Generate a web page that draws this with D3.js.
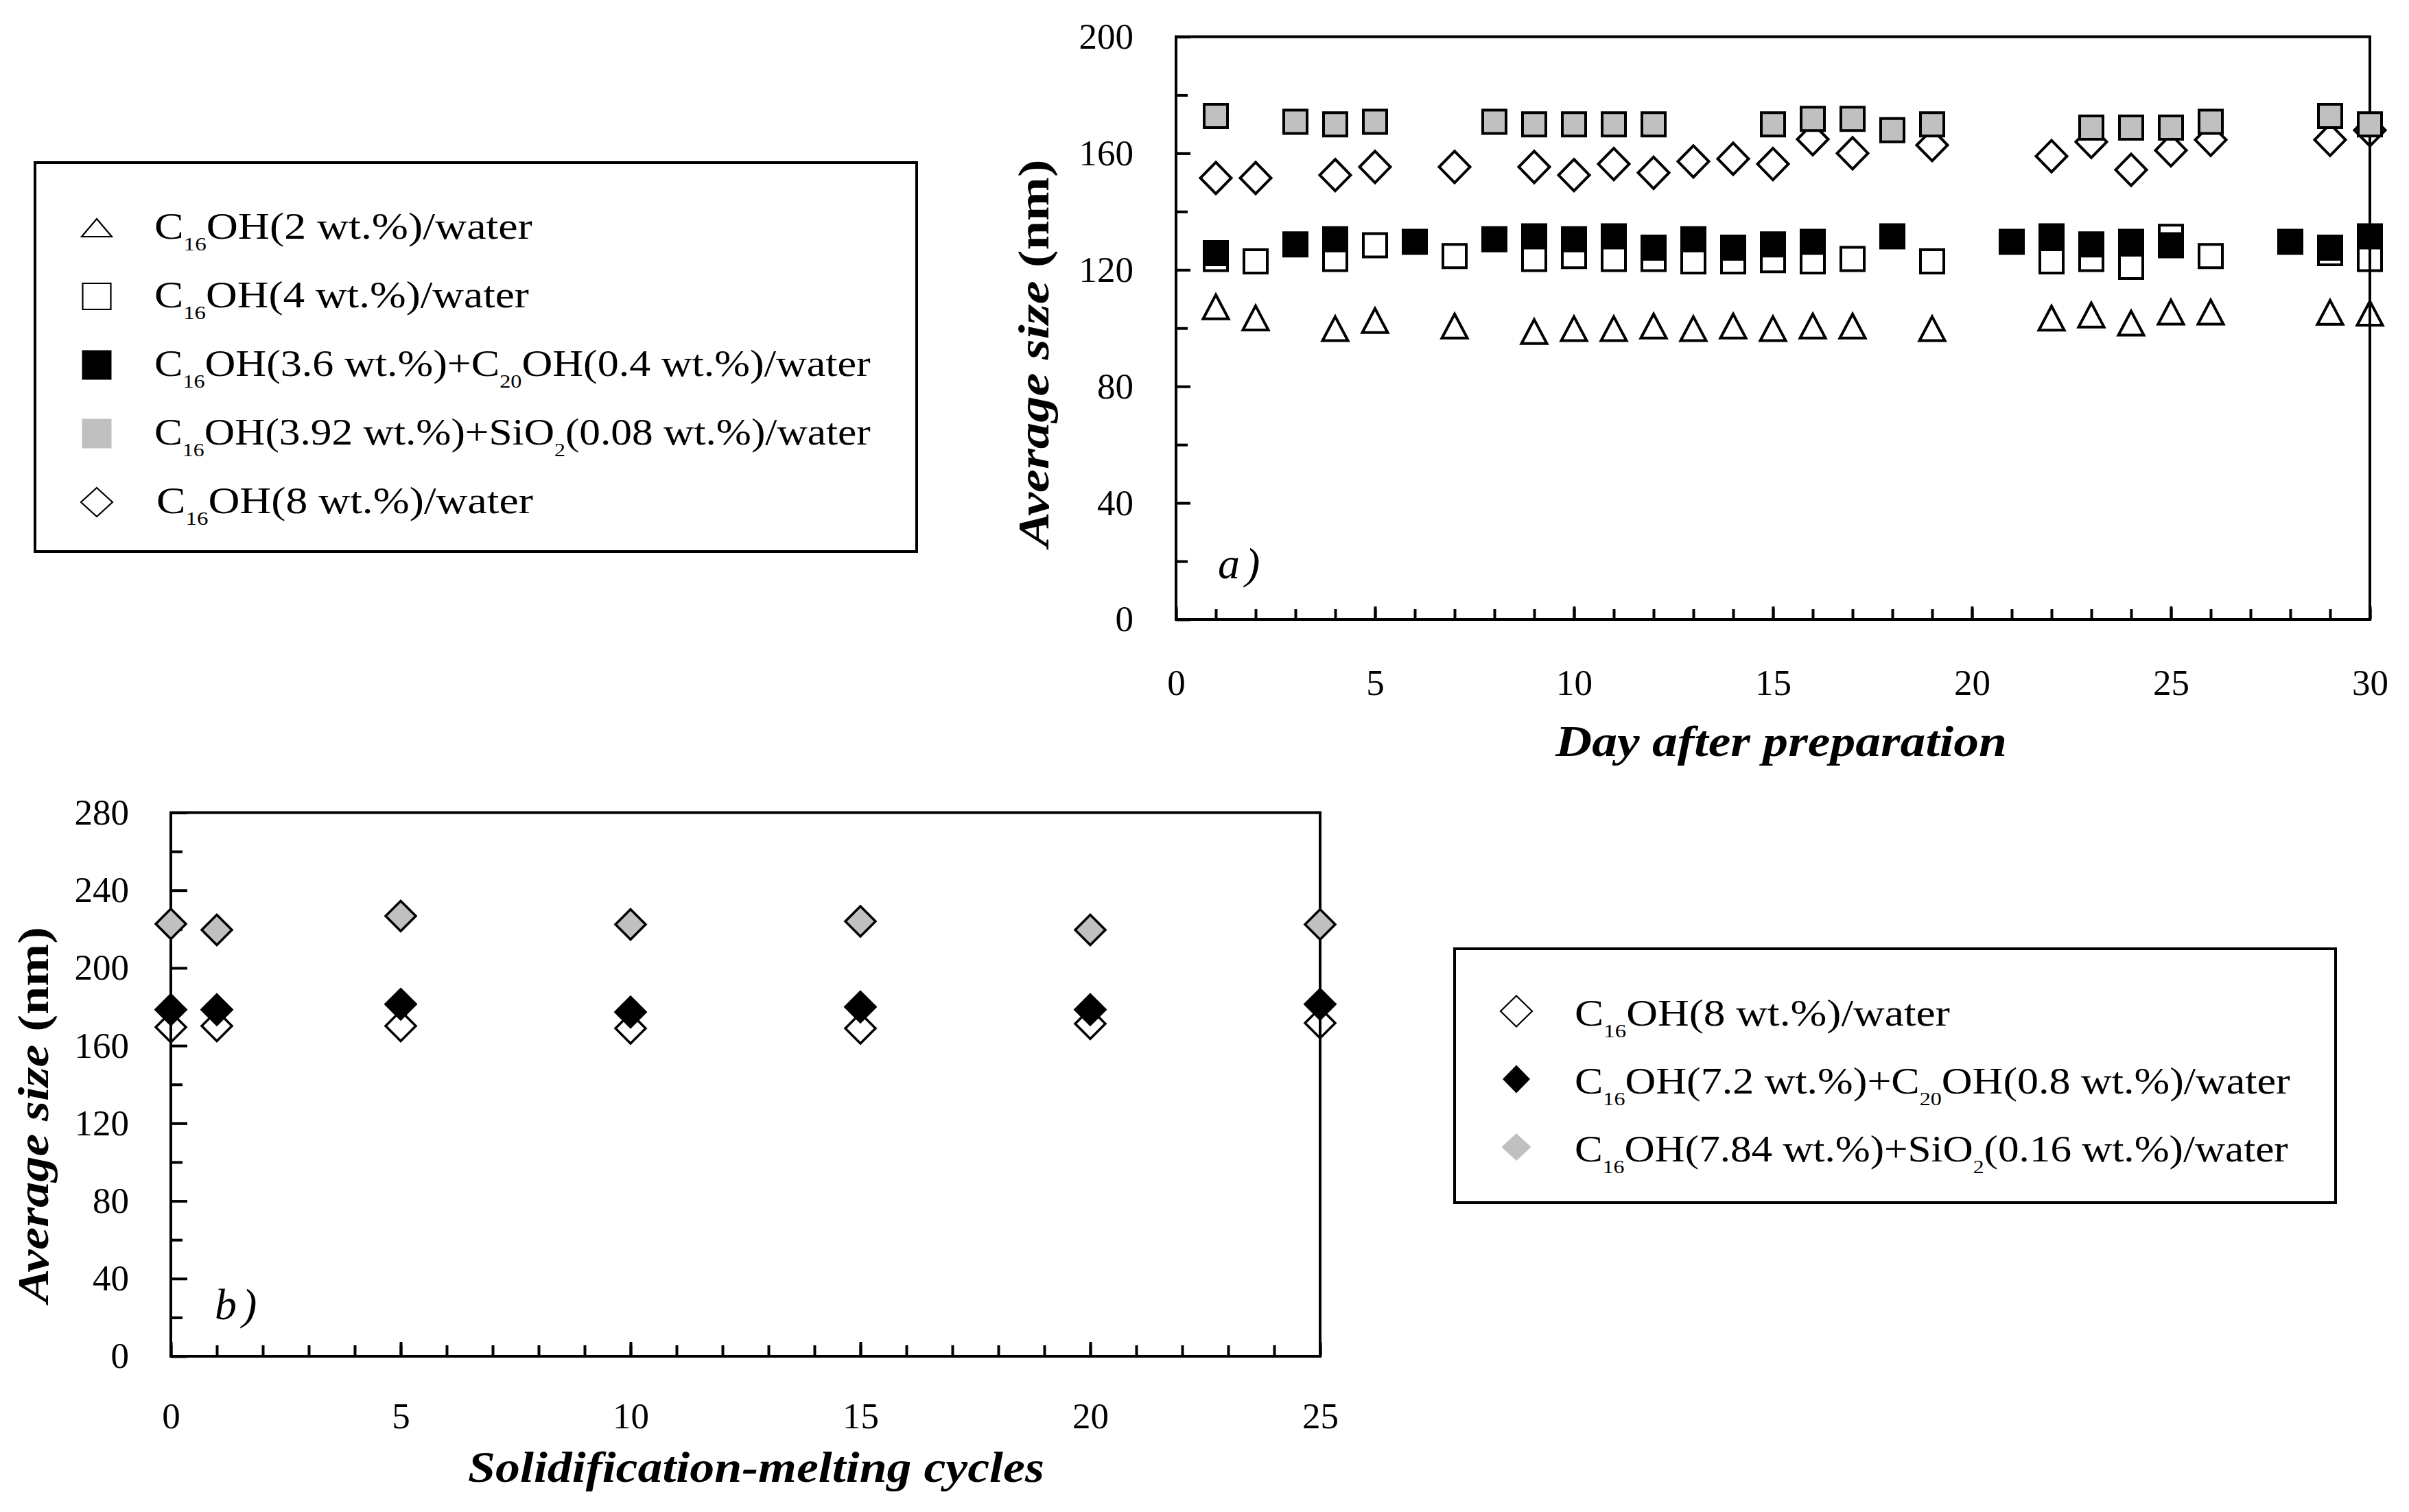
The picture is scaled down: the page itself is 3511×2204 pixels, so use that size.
<!DOCTYPE html>
<html><head><meta charset="utf-8">
<script src="https://cdn.jsdelivr.net/npm/d3@7"></script>
<style>html,body{margin:0;padding:0;background:#fff;} svg{display:block;}</style>
</head><body>
<svg id="chart" width="3511" height="2204"></svg>
<script>
// ---------------- DATA: panel a) average size vs day after preparation ----------------
const daysTri   = [1,2,4,5,7,9,10,11,12,13,14,15,16,17,19,22,23,24,25,26,29,30];
const sizeTri   = [107.3,103.5,99.8,102.6,100.7,98.8,99.8,99.8,100.7,99.8,100.7,99.8,100.7,100.7,99.8,103.4,104.5,101.7,105.5,105.5,105.4,105.1];
const daysOpenSq = [1,2,4,5,7,9,10,11,12,13,14,15,16,17,19,22,23,24,25,26,29,30];
const sizeOpenSq = [123.7,122.9,123.7,128.4,124.7,123.7,124.7,123.7,123.7,122.9,122.9,123.3,122.9,123.7,122.9,122.9,123.7,121.0,131.3,124.7,125.7,123.7];
const daysBlackSq = [1,3,4,6,8,9,10,11,12,13,14,15,16,18,21,22,23,24,25,28,29,30];
const sizeBlackSq = [125.7,128.7,130.5,129.6,130.5,131.5,130.5,131.5,127.6,130.5,127.6,128.7,129.6,131.5,129.6,131.5,128.7,129.6,128.4,129.6,127.6,131.5];
const daysGraySq = [1,3,4,5,8,9,10,11,12,15,16,17,18,19,23,24,25,26,29,30];
const sizeGraySq = [172.8,170.8,169.9,170.8,170.8,169.9,169.9,169.9,169.9,169.9,171.8,171.8,167.9,169.9,168.8,168.8,168.8,170.8,172.8,169.9];
const daysDiam = [1,2,4,5,7,9,10,11,12,13,14,15,16,17,19,22,23,24,25,26,29,30];
const sizeDiam = [151.5,151.5,152.5,155.3,155.3,155.3,152.5,156.3,153.3,157.2,158.1,156.3,164.8,160.0,162.8,159.0,163.9,154.3,161.0,164.6,164.6,167.9];

// ---------------- DATA: panel b) average size vs solidification-melting cycles ----------------
const cycles   = [0,1,5,10,15,20,25];
const sizeB8   = [169.5,170.1,170.1,168.9,168.9,171.3,171.6];
const sizeBC20 = [178.5,178.5,181.3,177.3,179.9,178.5,181.3];
const sizeBSi  = [222.7,219.6,226.7,222.4,224.0,219.6,222.4];

// ---------------- TICKS ----------------
const aXMajor = [0,5,10,15,20,25,30];
const aXMinor = [0,1,2,3,4,5,6,7,8,9,10,11,12,13,14,15,16,17,18,19,20,21,22,23,24,25,26,27,28,29,30];
const aYMajor = [0,40,80,120,160,200];
const aYMinor = [20,60,100,140,180];
const bXMajor = [0,5,10,15,20,25];
const bXMinor = [0,1,2,3,4,5,6,7,8,9,10,11,12,13,14,15,16,17,18,19,20,21,22,23,24,25];
const bYMajor = [0,40,80,120,160,200,240,280];
const bYMinor = [20,60,100,140,180,220,260];

// ---------------- LABELS ----------------
const legendA = ["C_16_OH(2 wt.%)/water", "C_16_OH(4 wt.%)/water", "C_16_OH(3.6 wt.%)+C_20_OH(0.4 wt.%)/water",
                 "C_16_OH(3.92 wt.%)+SiO_2_(0.08 wt.%)/water", "C_16_OH(8 wt.%)/water"];
const legendB = ["C_16_OH(8 wt.%)/water", "C_16_OH(7.2 wt.%)+C_20_OH(0.8 wt.%)/water", "C_16_OH(7.84 wt.%)+SiO_2_(0.16 wt.%)/water"];
const titleY = "Average size";
const titleXA = "Day after preparation";
const titleXB = "Solidification-melting cycles";

// ---------------- DRAWING ----------------
const FONT = "'Liberation Serif', 'Times New Roman', serif";
const GRAY = "#c0c0c0";
const svg = d3.select("#chart");
svg.append("rect").attr("width",3511).attr("height",2204).attr("fill","#fff");

const xA = d3.scaleLinear().domain([0,30]).range([1714,3454]);
const yA = d3.scaleLinear().domain([0,200]).range([903,53.5]);
const xB = d3.scaleLinear().domain([0,25]).range([249,1924]);
const yB = d3.scaleLinear().domain([0,280]).range([1977,1184.5]);

function drawAxes(g, x, y, o) {
  const [x0,x1] = x.range(), [y0,y1] = y.range();
  g.append("rect").attr("x",x0).attr("y",y1).attr("width",x1-x0).attr("height",y0-y1)
    .attr("fill","none").attr("stroke","#000").attr("stroke-width",4);
  g.append("g").attr("transform",`translate(0,${y0})`)
    .call(d3.axisBottom(x).tickValues(o.xMin).tickSize(-o.xMinLen).tickFormat(""));
  g.append("g").attr("transform",`translate(0,${y0})`)
    .call(d3.axisBottom(x).tickValues(o.xMaj).tickSize(-o.xMajLen).tickPadding(o.xPad).tickFormat(d3.format("d")));
  g.append("g").attr("transform",`translate(${x0},0)`)
    .call(d3.axisLeft(y).tickValues(o.yMin).tickSize(-o.yMinLen).tickFormat(""));
  g.append("g").attr("transform",`translate(${x0},0)`)
    .call(d3.axisLeft(y).tickValues(o.yMaj).tickSize(-o.yMajLen).tickPadding(o.yPad).tickFormat(d3.format("d")));
  g.selectAll(".domain").remove();
  g.selectAll(".tick line").attr("stroke","#000").attr("stroke-width",4);
  g.selectAll(".tick text").attr("font-family",FONT).attr("font-size",53).attr("fill","#000");
}

const sqPath  = s => `M${-s/2},${-s/2}H${s/2}V${s/2}H${-s/2}Z`;
const triPath = (w,h) => `M0,${-h/2}L${w/2},${h/2}L${-w/2},${h/2}Z`;
const diaPath = (w,h) => `M0,${-h/2}L${w/2},0L0,${h/2}L${-w/2},0Z`;

function drawSeries(g, x, y, xs, ys, d, fill, stroke, sw) {
  const pts = xs.map((v,i)=>({x:v, y:ys[i]}));
  g.append("g").selectAll("path").data(pts).join("path")
    .attr("transform", p => `translate(${x(p.x)},${y(p.y)})`)
    .attr("d", d).attr("fill", fill).attr("stroke", stroke).attr("stroke-width", sw)
    .attr("stroke-linejoin","miter");
}

function richText(t, str, subSize, subShift) {
  const parts = str.split(/_(\w+)_/);
  parts.forEach((p,i) => {
    if (i % 2 === 1) t.append("tspan").attr("font-size",subSize).attr("dy",subShift).text(p);
    else if (p) { const s = t.append("tspan").text(p); if (i > 0) s.attr("dy",-subShift); }
  });
}
function fitWidth(t, x0, target) {
  const len = t.node().getComputedTextLength();
  const sx = target/len;
  t.attr("transform", `translate(${x0},0) scale(${sx},1) translate(${-x0},0)`);
}

// ----- panel a -----
const gA = svg.append("g");
drawAxes(gA, xA, yA, {xMin:aXMinor, xMaj:aXMajor, xMinLen:15, xMajLen:19, xPad:72,
                      yMin:aYMinor, yMaj:aYMajor, yMinLen:17, yMajLen:21, yPad:62});
drawSeries(gA, xA, yA, daysTri, sizeTri, triPath(37,35), "none", "#000", 4);
drawSeries(gA, xA, yA, daysOpenSq, sizeOpenSq, sqPath(34), "none", "#000", 4);
drawSeries(gA, xA, yA, daysDiam, sizeDiam, diaPath(45,46), "none", "#000", 4);
drawSeries(gA, xA, yA, daysBlackSq, sizeBlackSq, sqPath(34), "#000", "#000", 4);
drawSeries(gA, xA, yA, daysGraySq, sizeGraySq, sqPath(34), GRAY, "#000", 4);

// ----- panel b -----
const gB = svg.append("g");
drawAxes(gB, xB, yB, {xMin:bXMinor, xMaj:bXMajor, xMinLen:16, xMajLen:21, xPad:67,
                      yMin:bYMinor, yMaj:bYMajor, yMinLen:17, yMajLen:24, yPad:61});
drawSeries(gB, xB, yB, cycles, sizeB8, diaPath(44,44), "none", "#000", 3.5);
drawSeries(gB, xB, yB, cycles, sizeBC20, diaPath(44,44), "#000", "#000", 3.5);
drawSeries(gB, xB, yB, cycles, sizeBSi, diaPath(44,44), GRAY, "#000", 3.5);

// ----- axis titles -----
function yTitle(cx, cy, len) {
  const t = svg.append("text").attr("font-family",FONT).attr("font-size",64).attr("font-weight","bold")
    .attr("text-anchor","middle");
  t.append("tspan").attr("font-style","italic").text(titleY + " ");
  t.append("tspan").text("(nm)");
  const L = t.node().getComputedTextLength();
  t.attr("transform", `translate(${cx},${cy}) rotate(-90) scale(${len/L},1)`);
}
yTitle(1528, 515, 565);
yTitle(70, 1625, 548);
function xTitle(cx, by, len, str) {
  const t = svg.append("text").attr("font-family",FONT).attr("font-size",64).attr("font-weight","bold")
    .attr("font-style","italic").attr("text-anchor","middle").text(str);
  const L = t.node().getComputedTextLength();
  t.attr("transform", `translate(${cx},${by}) scale(${len/L},1)`);
}
xTitle(2596, 1102, 658, titleXA);
xTitle(1102, 2160, 840, titleXB);

// panel letters
svg.append("text").attr("x",1775).attr("y",843).attr("font-family",FONT).attr("font-size",64)
  .attr("font-style","italic").attr("letter-spacing",8).text("a)");
svg.append("text").attr("x",313).attr("y",1923).attr("font-family",FONT).attr("font-size",64)
  .attr("font-style","italic").attr("letter-spacing",8).text("b)");

// ----- legend a -----
const legA = svg.append("g");
legA.append("rect").attr("x",51).attr("y",237).attr("width",1285).attr("height",567)
  .attr("fill","#fff").attr("stroke","#000").attr("stroke-width",4);
const legASym = [
  {d: triPath(44,26), fill:"none"},
  {d: `M-20.5,-19H20.5V19H-20.5Z`, fill:"none"},
  {d: sqPath(43), fill:"#000", noStroke:true},
  {d: sqPath(43), fill:GRAY, noStroke:true},
  {d: diaPath(46,42), fill:"none"}
];
const legAWidth = [551, 546, 1044, 1044, 549];
legendA.forEach((lab,i) => {
  const base = 348 + i*100;
  const s = legASym[i];
  legA.append("path").attr("transform",`translate(141,${base-16})`).attr("d",s.d)
    .attr("fill",s.fill).attr("stroke", s.noStroke ? "none" : "#000").attr("stroke-width",2.2);
  const t = legA.append("text").attr("x", i===4 ? 228 : 225).attr("y",base)
    .attr("font-family",FONT).attr("font-size",54);
  richText(t, lab, 28, 17);
  fitWidth(t, i===4 ? 228 : 225, legAWidth[i]);
});

// ----- legend b -----
const legB = svg.append("g");
legB.append("rect").attr("x",2120).attr("y",1383).attr("width",1284).attr("height",370)
  .attr("fill","#fff").attr("stroke","#000").attr("stroke-width",4);
const legBSym = [
  {d: diaPath(46,45), fill:"none"},
  {d: diaPath(40,41), fill:"#000", noStroke:true},
  {d: diaPath(43,40), fill:GRAY, noStroke:true}
];
const legBWidth = [547, 1043, 1040];
legendB.forEach((lab,i) => {
  const base = 1495 + i*99;
  const s = legBSym[i];
  legB.append("path").attr("transform",`translate(2210,${base-21})`).attr("d",s.d)
    .attr("fill",s.fill).attr("stroke", s.noStroke ? "none" : "#000").attr("stroke-width",2.2);
  const t = legB.append("text").attr("x",2295).attr("y",base)
    .attr("font-family",FONT).attr("font-size",54);
  richText(t, lab, 28, 17);
  fitWidth(t, 2295, legBWidth[i]);
});
</script>
</body></html>
